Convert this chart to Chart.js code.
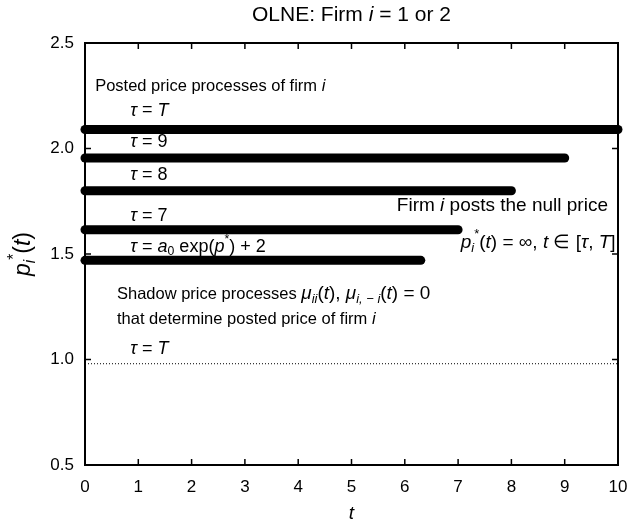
<!DOCTYPE html>
<html><head><meta charset="utf-8">
<script src="https://cdn.jsdelivr.net/npm/chart.js@4"></script>
<style>html,body{margin:0;padding:0;background:#fff}#wrap{width:631px;height:526px}</style>
</head><body><div id="wrap"><canvas id="c" width="631" height="526"></canvas></div>
<script>
// ---- data ----
const xTickValues = [0,1,2,3,4,5,6,7,8,9,10];
const yTickValues = [0.5,1.0,1.5,2.0,2.5];
const postedTau = ['T','9','8','7','a0'];
const postedEnd = [10, 9, 8, 7, 6.3];
const postedPrice = [2.09, 1.955, 1.80, 1.615, 1.47];
const shadowEnd = [10];
const shadowPrice = [0.98];

const FONT = '"Liberation Sans", Arial, Helvetica, sans-serif';

const datasets = [];
postedPrice.forEach((v,k)=>{
  datasets.push({label:'posted τ='+postedTau[k], data:[{x:0,y:v},{x:postedEnd[k],y:v}],
    borderColor:'#000', borderWidth:9, borderCapStyle:'round', pointRadius:0, clip:false, showLine:true});
});
shadowPrice.forEach((v,k)=>{
  datasets.push({label:'shadow', data:[{x:0,y:v},{x:shadowEnd[k],y:v}],
    borderColor:'#000', borderWidth:1, borderDash:[1,2], pointRadius:0, showLine:true});
});

function drawRich(ctx, x, y, segs, size, align){
  const styles = {
    n:{it:false,sc:1,dy:0}, i:{it:true,sc:1,dy:0},
    ib:{it:true,sc:0.68,dy:0.3}, is:{it:true,sc:0.68,dy:-0.4},
    b:{it:false,sc:0.68,dy:0.3}, s:{it:false,sc:0.68,dy:-0.4}
  };
  let total = 0;
  const parts = segs.map(([t,st,m])=>{
    const s = styles[st];
    const sz = size*(m||1);
    const f = (s.it?'italic ':'') + (sz*s.sc).toFixed(2)+'px '+FONT;
    ctx.font = f;
    const w = ctx.measureText(t).width;
    total += w;
    return {t,f,w,dy:s.dy*sz};
  });
  let cx = align==='center' ? x - total/2 : x;
  ctx.textBaseline = 'middle'; ctx.textAlign = 'left'; ctx.fillStyle = '#000';
  parts.forEach(p=>{ ctx.font = p.f; ctx.fillText(p.t, cx, y + p.dy); cx += p.w; });
}

const M = 1.15;
const annotations = [
  {x:0.19, y:2.295, size:16.5, segs:[['Posted price processes of firm ','n'],['i','i']]},
  {x:0.85, y:2.18, size:18, segs:[['τ','i'],[' = ','n'],['T','i']]},
  {x:0.85, y:2.03, size:18, segs:[['τ','i'],[' = 9','n']]},
  {x:0.85, y:1.875, size:18, segs:[['τ','i'],[' = 8','n']]},
  {x:0.85, y:1.68, size:18, segs:[['τ','i'],[' = 7','n']]},
  {x:0.85, y:1.535, size:18, segs:[['τ','i'],[' = ','n'],['a','i'],['0','b'],[' exp(','n'],['p','i'],['*','s'],[') + 2','n']]},
  {x:5.85, y:1.73, size:19, segs:[['Firm ','n'],['i','i'],[' posts the null price','n']]},
  {x:7.05, y:1.555, size:19, segs:[['p','i'],['i','ib'],['*','s'],['(','n'],['t','i'],[') = ∞, ','n'],['t','i'],[' ∈ [','n'],['τ','i'],[', ','n'],['T','i'],[']','n']]},
  {x:0.6, y:1.31, size:16.5, segs:[['Shadow price processes ','n'],['μ','i',M],['ii','ib',M],['(','n',M],['t','i',M],['), ','n',M],['μ','i',M],['i, − i','ib',M],['(','n',M],['t','i',M],[') = 0','n',M]]},
  {x:0.6, y:1.19, size:16.5, segs:[['that determine posted price of firm ','n'],['i','i']]},
  {x:0.85, y:1.05, size:18, segs:[['τ','i'],[' = ','n'],['T','i']]}
];

const decor = {
  id:'decor',
  afterDatasetsDraw(chart){
    const ctx = chart.ctx, xs = chart.scales.x, ys = chart.scales.y, a = chart.chartArea;
    ctx.save();
    ctx.strokeStyle = '#000'; ctx.lineWidth = 2;
    ctx.strokeRect(a.left, a.top, a.right-a.left, a.bottom-a.top);
    ctx.lineWidth = 1.5;
    const tl = 6;
    xTickValues.forEach(v=>{
      const px = xs.getPixelForValue(v);
      ctx.beginPath(); ctx.moveTo(px, a.bottom); ctx.lineTo(px, a.bottom-tl);
      ctx.moveTo(px, a.top); ctx.lineTo(px, a.top+tl); ctx.stroke();
    });
    yTickValues.forEach(v=>{
      const py = ys.getPixelForValue(v);
      ctx.beginPath(); ctx.moveTo(a.left, py); ctx.lineTo(a.left+tl, py);
      ctx.moveTo(a.right, py); ctx.lineTo(a.right-tl, py); ctx.stroke();
    });
    annotations.forEach(an=>{
      drawRich(ctx, xs.getPixelForValue(an.x), ys.getPixelForValue(an.y), an.segs, an.size);
    });
    drawRich(ctx, (a.left+a.right)/2, 15, [['OLNE: Firm ','n'],['i','i'],[' = 1 or 2','n']], 21, 'center');
    drawRich(ctx, (a.left+a.right)/2, 514, [['t','i']], 19, 'center');
    ctx.translate(24, (a.top+a.bottom)/2);
    ctx.rotate(-Math.PI/2);
    drawRich(ctx, 0, 0, [['p','i'],['i','ib'],['*','s'],['(','n'],['t','i'],[')','n']], 23, 'center');
    ctx.restore();
  }
};

new Chart(document.getElementById('c'), {
  type:'scatter',
  data:{datasets},
  options:{
    responsive:false, animation:false, devicePixelRatio:1,
    layout:{padding:{left:0, top:43, right:13, bottom:0}},
    plugins:{legend:{display:false}, tooltip:{enabled:false}, title:{display:false}},
    scales:{
      x:{type:'linear', min:0, max:10,
        afterFit(s){ s.height = 61; s.paddingLeft = 0; s.paddingRight = 0; },
        afterBuildTicks(s){ s.ticks = xTickValues.map(v=>({value:v})); },
        grid:{display:false, drawTicks:false}, border:{display:false},
        ticks:{color:'#000', padding:12, font:{family:FONT, size:17}, maxRotation:0, autoSkip:false}
      },
      y:{type:'linear', min:0.5, max:2.5,
        afterFit(s){ s.width = 85; s.paddingTop = 0; s.paddingBottom = 0; },
        afterBuildTicks(s){ s.ticks = yTickValues.map(v=>({value:v})); },
        grid:{display:false, drawTicks:false}, border:{display:false},
        ticks:{color:'#000', padding:11, font:{family:FONT, size:17}, callback:v=>v.toFixed(1), autoSkip:false}
      }
    }
  },
  plugins:[decor]
});
</script></body></html>
